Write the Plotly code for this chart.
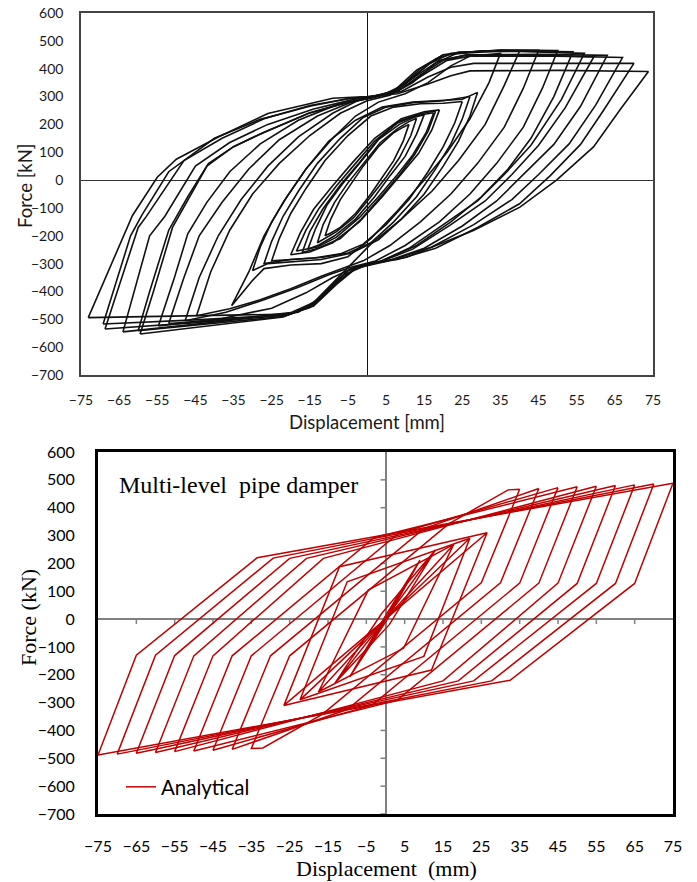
import plotly.graph_objects as go

# ---------------- axis ticks ----------------
X_TICKS = [-75, -65, -55, -45, -35, -25, -15, -5, 5, 15, 25, 35, 45, 55, 65, 75]
Y_TICKS = [600, 500, 400, 300, 200, 100, 0, -100, -200, -300, -400, -500, -600, -700]

# ---------------- top panel: experimental loops (displacement mm, force kN) ----------------
EXP_S1_X = [11, 9.5, 7, 4, 1, -3, -7, -9.5, -11, -9.5, -7, -4, -1, 3, 7, 9.5, 11]
EXP_S1_Y = [200, 140, 70, 10, -50, -120, -170, -190, -200, -140, -70, -10, 50, 120, 170, 190, 200]
EXP_S2_X = [13, 11.5, 8.5, 5, 1, -3.5, -8, -11, -13, -11.5, -8.5, -5, -1, 3.5, 8, 11, 13]
EXP_S2_Y = [222, 160, 80, 10, -60, -135, -185, -210, -225, -160, -80, -10, 60, 135, 185, 210, 222]
EXP_S3_X = [15, 13, 10, 6, 2, -3, -8.5, -12.5, -15.5, -13.5, -10.5, -6.5, -2, 3, 8.5, 12.5, 15]
EXP_S3_Y = [235, 165, 85, 15, -60, -140, -200, -232, -248, -175, -90, -15, 60, 145, 200, 226, 235]
EXP_S4_X = [17.5, 15.5, 12, 8, 3, -2, -8, -13, -18.5, -16, -12.5, -8, -3, 2, 8, 13, 17.5]
EXP_S4_Y = [242, 170, 90, 20, -60, -135, -205, -240, -255, -180, -100, -20, 60, 140, 205, 232, 242]
EXP_S5_X = [19, 17, 13.5, 9, 4, -2, -9, -15, -20, -17.5, -14, -9, -4, 2, 9, 15, 19]
EXP_S5_Y = [252, 180, 95, 20, -60, -150, -225, -258, -268, -190, -105, -20, 60, 150, 220, 245, 252]
EXP_S6_X = [18, 16, 12.5, 8.5, 3.5, -1.5, -7, -13, -17, -15, -11.5, -7, -2, 3, 8.5, 14, 18]
EXP_S6_Y = [248, 175, 92, 18, -62, -140, -210, -246, -260, -185, -102, -18, 62, 148, 212, 238, 248]

EXP_M1_X = [27, 25, 22, 18, 13, 7, 1, -5, -12, -20, -27, -25, -22, -18, -13, -7, -1, 5, 12, 20, 27]
EXP_M1_Y = [300, 220, 130, 40, -60, -150, -225, -262, -278, -285, -300, -220, -130, -40, 60, 150, 225, 262, 278, 285, 300]
EXP_M2_X = [29, 27, 24, 20, 15, 9, 3, -4, -12, -21, -26, -30, -28, -25, -21, -16, -10, -3, 4, 12, 20, 25, 29]
EXP_M2_Y = [315, 230, 140, 50, -50, -140, -215, -262, -285, -295, -300, -325, -240, -150, -60, 40, 140, 215, 262, 280, 285, 290, 315]
EXP_M3_X = [25, 23, 20, 16, 11, 5, -1, -7, -14, -20, -25, -23, -20, -16, -11, -5, 1, 7, 14, 20, 25]
EXP_M3_Y = [282, 205, 120, 30, -70, -160, -230, -265, -280, -285, -290, -210, -120, -30, 70, 160, 230, 262, 274, 276, 282]

EXP_B1_X = [-35.5, -31, -27, -22, -16, -9, -3, 3, 10, 16, 22, 27, 35,
            32, 27, 21, 15, 8, 1, -5, -12, -20, -27, -30, -33, -35.5]
EXP_B1_Y = [-451, -330, -200, -80, 40, 150, 230, 280, 310, 350, 410, 445, 455,
            350, 220, 100, 0, -110, -210, -275, -300, -305, -318, -360, -410, -451]
EXP_B2_X = [-44.7, -41, -36, -30, -23, -15, -7, 0, 6, 12, 18, 24, 35, 45,
            41, 36, 29, 22, 14, 6, -1, -6, -12, -20, -28, -36, -44.7]
EXP_B2_Y = [-487, -330, -180, -50, 60, 160, 240, 285, 305, 350, 420, 458, 466, 466,
            330, 190, 60, -50, -150, -235, -290, -315, -345, -390, -430, -462, -487]
EXP_B3_X = [-47.7, -44, -39, -33, -26, -18, -9, -2, 4, 10, 16, 22, 35, 50,
            46, 41, 34, 27, 19, 10, 2, -4, -10, -18, -27, -37, -47.7]
EXP_B3_Y = [-505, -350, -200, -70, 50, 155, 240, 288, 305, 345, 415, 455, 467, 465,
            330, 190, 60, -50, -150, -235, -292, -312, -340, -385, -430, -475, -505]
EXP_B4_X = [-54.7, -50.5, -47, -42, -36, -28, -18, -8, 0, 7, 13, 20, 35, 54,
            49, 43, 37, 30, 22, 13, 4, -3, -9, -16, -25, -38, -54.7]
EXP_B4_Y = [-524, -350, -193, -80, 30, 130, 215, 270, 295, 320, 395, 450, 465, 461,
            300, 150, 40, -60, -150, -235, -290, -312, -350, -405, -460, -497, -524]
EXP_B5_X = [-59.5, -56, -51, -46, -41.6, -35, -27.6, -15.4, -6, 0, 6, 12, 18, 24, 40, 57,
            51, 43, 36, 29, 20, 11, 3, -3, -8, -14, -22, -40, -59.5]
EXP_B5_Y = [-553, -400, -170, -50, 59, 120, 167, 239, 275, 292, 310, 370, 435, 460, 462, 455,
            290, 125, 20, -75, -160, -245, -295, -315, -370, -450, -492, -520, -553]
EXP_B6_X = [-60, -57, -52, -47, -42, -35, -27, -15, -5, 1, 7, 13, 19, 26, 45, 59.5,
            52, 45, 38, 31, 22, 12, 3, -3, -8, -14, -22, -40, -60]
EXP_B6_Y = [-541, -400, -180, -60, 50, 120, 172, 242, 280, 295, 315, 375, 430, 448, 448, 443,
            260, 125, 20, -75, -160, -248, -296, -318, -375, -452, -490, -515, -541]
EXP_B7_X = [-68.7, -65, -60, -58, -48, -38, -27, -15, -5, 1, 8, 15, 21, 27, 50, 67,
            60, 53, 45, 38, 28, 17, 7, 0, -5, -9, -15, -21, -45, -68.7]
EXP_B7_Y = [-535, -380, -170, -133, 70, 150, 220, 268, 292, 300, 320, 380, 430, 445, 445, 440,
            270, 130, 20, -70, -160, -240, -285, -302, -325, -378, -455, -485, -512, -535]
EXP_B8_X = [-69.2, -66, -62, -59, -52, -40, -28, -15, -5, 1, 9, 16, 22, 28, 50, 70,
            62, 56, 48, 40, 29, 18, 8, 0, -5, -9, -15, -21, -45, -69.2]
EXP_B8_Y = [-517, -380, -200, -125, 30, 150, 218, 265, 292, 300, 318, 370, 405, 419, 420, 419,
            250, 128, 15, -85, -170, -245, -285, -302, -325, -378, -458, -484, -502, -517]
EXP_B9_X = [-73.1, -67, -61.5, -55, -50, -39, -26, -9, 0, 8, 16, 22, 27, 50, 73.8,
            66.5, 59.4, 49.7, 40.1, 27.9, 10.4, 0, -4.5, -8.8, -14, -20, -45, -73.1]
EXP_B9_Y = [-494, -300, -127, 10, 75, 155, 239, 294, 300, 310, 345, 375, 392, 394, 390,
            255, 119, 0, -97, -181, -277, -301, -320, -373, -445, -481, -488, -494]
EXP_B10_X = [-52, -48, -44, -38, -31, -23, -13, -4, 2, 8, 14, 20, 30, 40,
             36, 31, 24, 17, 9, 1, -4, -9, -14, -20, -32, -52]
EXP_B10_Y = [-515, -350, -200, -80, 40, 145, 230, 280, 298, 325, 400, 450, 464, 463,
             340, 200, 70, -40, -140, -230, -300, -370, -440, -476, -495, -515]
EXP_B11_X = [-64, -61, -57, -53, -45, -36, -26, -14, -4, 1, 8, 14, 20, 26, 45, 63,
             56, 49, 41, 34, 25, 15, 5, -1, -6, -11, -18, -40, -64]
EXP_B11_Y = [-545, -400, -200, -130, 50, 135, 200, 255, 288, 298, 318, 378, 430, 450, 452, 448,
             265, 128, 20, -75, -165, -245, -292, -310, -340, -410, -475, -510, -545]

EXP_LOOPS = [
    (EXP_S1_X, EXP_S1_Y), (EXP_S2_X, EXP_S2_Y), (EXP_S3_X, EXP_S3_Y),
    (EXP_S4_X, EXP_S4_Y), (EXP_S5_X, EXP_S5_Y), (EXP_S6_X, EXP_S6_Y),
    (EXP_M1_X, EXP_M1_Y), (EXP_M2_X, EXP_M2_Y), (EXP_M3_X, EXP_M3_Y),
    (EXP_B1_X, EXP_B1_Y), (EXP_B2_X, EXP_B2_Y), (EXP_B3_X, EXP_B3_Y),
    (EXP_B4_X, EXP_B4_Y), (EXP_B5_X, EXP_B5_Y), (EXP_B6_X, EXP_B6_Y),
    (EXP_B7_X, EXP_B7_Y), (EXP_B8_X, EXP_B8_Y), (EXP_B9_X, EXP_B9_Y),
    (EXP_B10_X, EXP_B10_Y), (EXP_B11_X, EXP_B11_Y),
]

# ---------------- bottom panel: analytical loops ----------------
ANA_9_X = [0, 9, 0.3, -9.3, -0.3, 9, 0.3, -9.3, 0]
ANA_9_Y = [0, 212, -5, -207, 5, 212, -5, -207, 0]
ANA_13_X = [0, 13, 1, -13.2, -1, 13, 1, -13.2, 0]
ANA_13_Y = [0, 248, -20, -230, 20, 248, -20, -230, 0]
ANA_18_X = [0, 17.8, 4.7, -17.5, -4.5, 17.8, 4.7, -17.5, 0]
ANA_18_Y = [0, 268, -105, -262, 104, 268, -105, -262, 0]
ANA_22_X = [0, 22, 10, -22.3, -10, 22, 10, -22.3, 0]
ANA_22_Y = [0, 290, -134, -290, 134, 290, -134, -290, 0]
ANA_27_X = [0, 26.5, 12, -26.5, -12, 26.5, 12, -26.5, 0]
ANA_27_Y = [0, 310, -183, -310, 188, 310, -183, -310, 0]
ANA_35_X = [35, 25, -16.5, -30.5, -32, -35, -25, 16.5, 30.5, 32, 35]
ANA_35_Y = [466, 130, -342, -450, -463, -465, -132, 342, 450, 464, 466]
ANA_40_X = [40, 30, -10, -40, -30, 10, 40]
ANA_40_Y = [469, 130, -325, -468, -132, 325, 469]
ANA_45_X = [45, 35, -3.5, -45, -35, 3.5, 45]
ANA_45_Y = [472, 129, -309, -471, -132, 309, 472]
ANA_50_X = [50, 40, 3, -50, -40, -3, 50]
ANA_50_Y = [475, 129, -292, -474, -132, 292, 475]
ANA_55_X = [55, 45, 15, -55, -45, -16.2, 55]
ANA_55_Y = [477, 129, -222, -476, -132, 218, 477]
ANA_60_X = [60, 50, 19, -60, -50, -20.6, 60]
ANA_60_Y = [480, 128, -222, -479, -132, 218, 480]
ANA_65_X = [65, 55, 23, -65, -55, -25, 65]
ANA_65_Y = [482, 128, -222, -482, -131, 218, 482]
ANA_70_X = [70, 60, 27.7, -70, -60, -29.3, 70]
ANA_70_Y = [485, 128, -222, -485, -130, 219, 485]
ANA_75_X = [75, 65, 32.5, -75, -65, -33.5, 75]
ANA_75_Y = [488, 128, -220, -488, -130, 220, 488]

ANA_LOOPS = [
    (ANA_9_X, ANA_9_Y), (ANA_13_X, ANA_13_Y), (ANA_18_X, ANA_18_Y),
    (ANA_22_X, ANA_22_Y), (ANA_27_X, ANA_27_Y), (ANA_35_X, ANA_35_Y),
    (ANA_40_X, ANA_40_Y), (ANA_45_X, ANA_45_Y), (ANA_50_X, ANA_50_Y),
    (ANA_55_X, ANA_55_Y), (ANA_60_X, ANA_60_Y), (ANA_65_X, ANA_65_Y),
    (ANA_70_X, ANA_70_Y), (ANA_75_X, ANA_75_Y),
]

for xs, ys in EXP_LOOPS + ANA_LOOPS:
    assert len(xs) == len(ys), (xs, ys)

W, H = 697, 882
fig = go.Figure()

for xs, ys in EXP_LOOPS:
    fig.add_trace(go.Scatter(x=xs, y=ys, mode="lines", xaxis="x", yaxis="y",
                             line=dict(color="#111111", width=1.6),
                             showlegend=False, hoverinfo="skip"))

for i, (xs, ys) in enumerate(ANA_LOOPS):
    fig.add_trace(go.Scatter(x=xs, y=ys, mode="lines", xaxis="x2", yaxis="y2",
                             name="Analytical", legendgroup="ana",
                             showlegend=(i == 0),
                             line=dict(color="#C00000", width=1.5),
                             hoverinfo="skip"))

# pixel geometry of the two plot frames
T_L, T_R, T_T, T_B = 81, 653, 13, 375
B_L, B_R, B_T, B_B = 98, 673, 452, 814

tick_font_top = dict(family="Lato", size=14, color="#1a1a1a")
tick_font_bot = dict(family="Lato", size=16, color="#000000")

fig.update_layout(
    width=W, height=H,
    margin=dict(l=0, r=0, t=0, b=0, pad=0, autoexpand=False),
    paper_bgcolor="white", plot_bgcolor="white",
    xaxis=dict(domain=[T_L / W, T_R / W], range=[-75, 75], anchor="y",
               tickmode="array", tickvals=X_TICKS, ticks="", ticklabelstandoff=11,
               tickfont=tick_font_top, showgrid=False, automargin=False,
               showline=True, mirror=True, linecolor="#444444", linewidth=1.6,
               zeroline=True, zerolinecolor="#111111", zerolinewidth=1.3),
    yaxis=dict(domain=[1 - T_B / H, 1 - T_T / H], range=[-700, 600], anchor="x",
               tickmode="array", tickvals=Y_TICKS, ticks="", ticklabelstandoff=13,
               tickfont=tick_font_top, showgrid=False, automargin=False,
               showline=True, mirror=True, linecolor="#444444", linewidth=1.6,
               zeroline=True, zerolinecolor="#333333", zerolinewidth=1),
    xaxis2=dict(domain=[B_L / W, B_R / W], range=[-75, 75], anchor="y2",
                tickmode="array", tickvals=X_TICKS, ticks="", ticklabelstandoff=16,
                tickfont=tick_font_bot, showgrid=False, automargin=False,
                showline=True, mirror=True, linecolor="#000000", linewidth=2.8,
                zeroline=True, zerolinecolor="#808080", zerolinewidth=2),
    yaxis2=dict(domain=[1 - B_B / H, 1 - B_T / H], range=[-700, 600], anchor="x2",
                tickmode="array", tickvals=Y_TICKS, ticks="", ticklabelstandoff=17,
                tickfont=tick_font_bot, showgrid=False, automargin=False,
                showline=True, mirror=True, linecolor="#000000", linewidth=2.8,
                zeroline=True, zerolinecolor="#808080", zerolinewidth=2),
    legend=dict(x=121 / W, y=1 - 787 / H, xanchor="left", yanchor="middle",
                bgcolor="rgba(0,0,0,0)", borderwidth=0,
                font=dict(family="Lato", size=20.5, color="#000000"),
                itemwidth=30, tracegroupgap=0),
)

# small tick marks on the zero axes of the bottom panel (Excel style axes through the origin)
shapes = []
for xv in X_TICKS[1:-1]:
    shapes.append(dict(type="line", xref="x2", yref="y2", x0=xv, x1=xv, y0=0, y1=-18,
                       line=dict(color="#808080", width=1.5), layer="below"))
for yv in Y_TICKS[1:]:
    shapes.append(dict(type="line", xref="x2", yref="y2", x0=0, x1=-1.3, y0=yv, y1=yv,
                       line=dict(color="#808080", width=1.5), layer="below"))
fig.update_layout(shapes=shapes)

annotations = [
    dict(text="Force [kN]", x=25 / W, y=1 - 186 / H, xref="paper", yref="paper",
         xanchor="center", yanchor="middle", textangle=-90, showarrow=False,
         font=dict(family="Lato", size=18.5, color="#1a1a1a")),
    dict(text="Displacement [mm]", x=367 / W, y=1 - 422 / H, xref="paper", yref="paper",
         xanchor="center", yanchor="middle", showarrow=False,
         font=dict(family="Lato", size=18.5, color="#1a1a1a")),
    dict(text="Force (kN)", x=28 / W, y=1 - 617 / H, xref="paper", yref="paper",
         xanchor="center", yanchor="middle", textangle=-90, showarrow=False,
         font=dict(family="Liberation Serif", size=22, color="#000000")),
    dict(text="Displacement\u00a0 (mm)", x=387 / W, y=1 - 868 / H, xref="paper", yref="paper",
         xanchor="center", yanchor="middle", showarrow=False,
         font=dict(family="Liberation Serif", size=22, color="#000000")),
    dict(text="Multi-level\u00a0 pipe damper", x=117 / W, y=1 - 485 / H, xref="paper", yref="paper",
         xanchor="left", yanchor="middle", showarrow=False,
         font=dict(family="Liberation Serif", size=24, color="#000000")),
]
fig.update_layout(annotations=annotations)

fig.write_html("out.html")
